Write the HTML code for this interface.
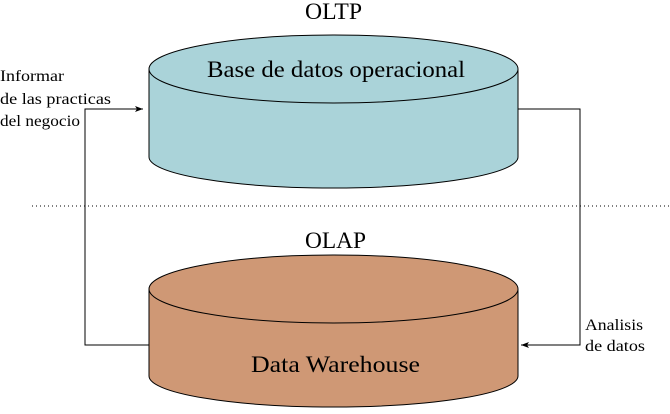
<!DOCTYPE html>
<html><head><meta charset="utf-8"><style>body{margin:0;background:#fff}</style></head><body>
<svg width="670" height="409" viewBox="0 0 670 409" xmlns="http://www.w3.org/2000/svg" font-family="'Liberation Serif', serif">
<defs><marker id="a" markerWidth="8" markerHeight="6" refX="8" refY="3" orient="auto" markerUnits="userSpaceOnUse"><path d="M0,0 L8,3 L0,6 L2,3 z" fill="#000"/></marker></defs>
<line x1="32" y1="206" x2="670" y2="206" stroke="#000" stroke-width="1" stroke-dasharray="1,3"/>
<path d="M149,69 V157 A184.5,31 0 0 0 518,157 V69" fill="#aad3d9" stroke="#000"/>
<ellipse cx="333.5" cy="69" rx="184.5" ry="34" fill="#aad3d9" stroke="#000"/>
<path d="M149,289 V376 A184.5,31 0 0 0 518,376 V289" fill="#cf9875" stroke="#000"/>
<ellipse cx="333.5" cy="289" rx="184.5" ry="34" fill="#cf9875" stroke="#000"/>
<polyline points="149,345 85,345 85,109 143,109" fill="none" stroke="#000" marker-end="url(#a)"/>
<polyline points="518,109 580,109 580,345 521,345" fill="none" stroke="#000" marker-end="url(#a)"/>
<g font-size="23">
<text x="305" y="19" textLength="57" lengthAdjust="spacingAndGlyphs">OLTP</text>
<text x="207" y="77" textLength="258" lengthAdjust="spacingAndGlyphs">Base de datos operacional</text>
<text x="305" y="248" textLength="61" lengthAdjust="spacingAndGlyphs">OLAP</text>
<text x="251" y="372" textLength="169" lengthAdjust="spacingAndGlyphs">Data Warehouse</text>
</g>
<g font-size="16">
<text x="0" y="81" textLength="64" lengthAdjust="spacingAndGlyphs">Informar</text>
<text x="0" y="104" textLength="111" lengthAdjust="spacingAndGlyphs">de las practicas</text>
<text x="0" y="126" textLength="80" lengthAdjust="spacingAndGlyphs">del negocio</text>
<text x="585" y="330" textLength="58" lengthAdjust="spacingAndGlyphs">Analisis</text>
<text x="585" y="351" textLength="60" lengthAdjust="spacingAndGlyphs">de datos</text>
</g>
</svg>
</body></html>
